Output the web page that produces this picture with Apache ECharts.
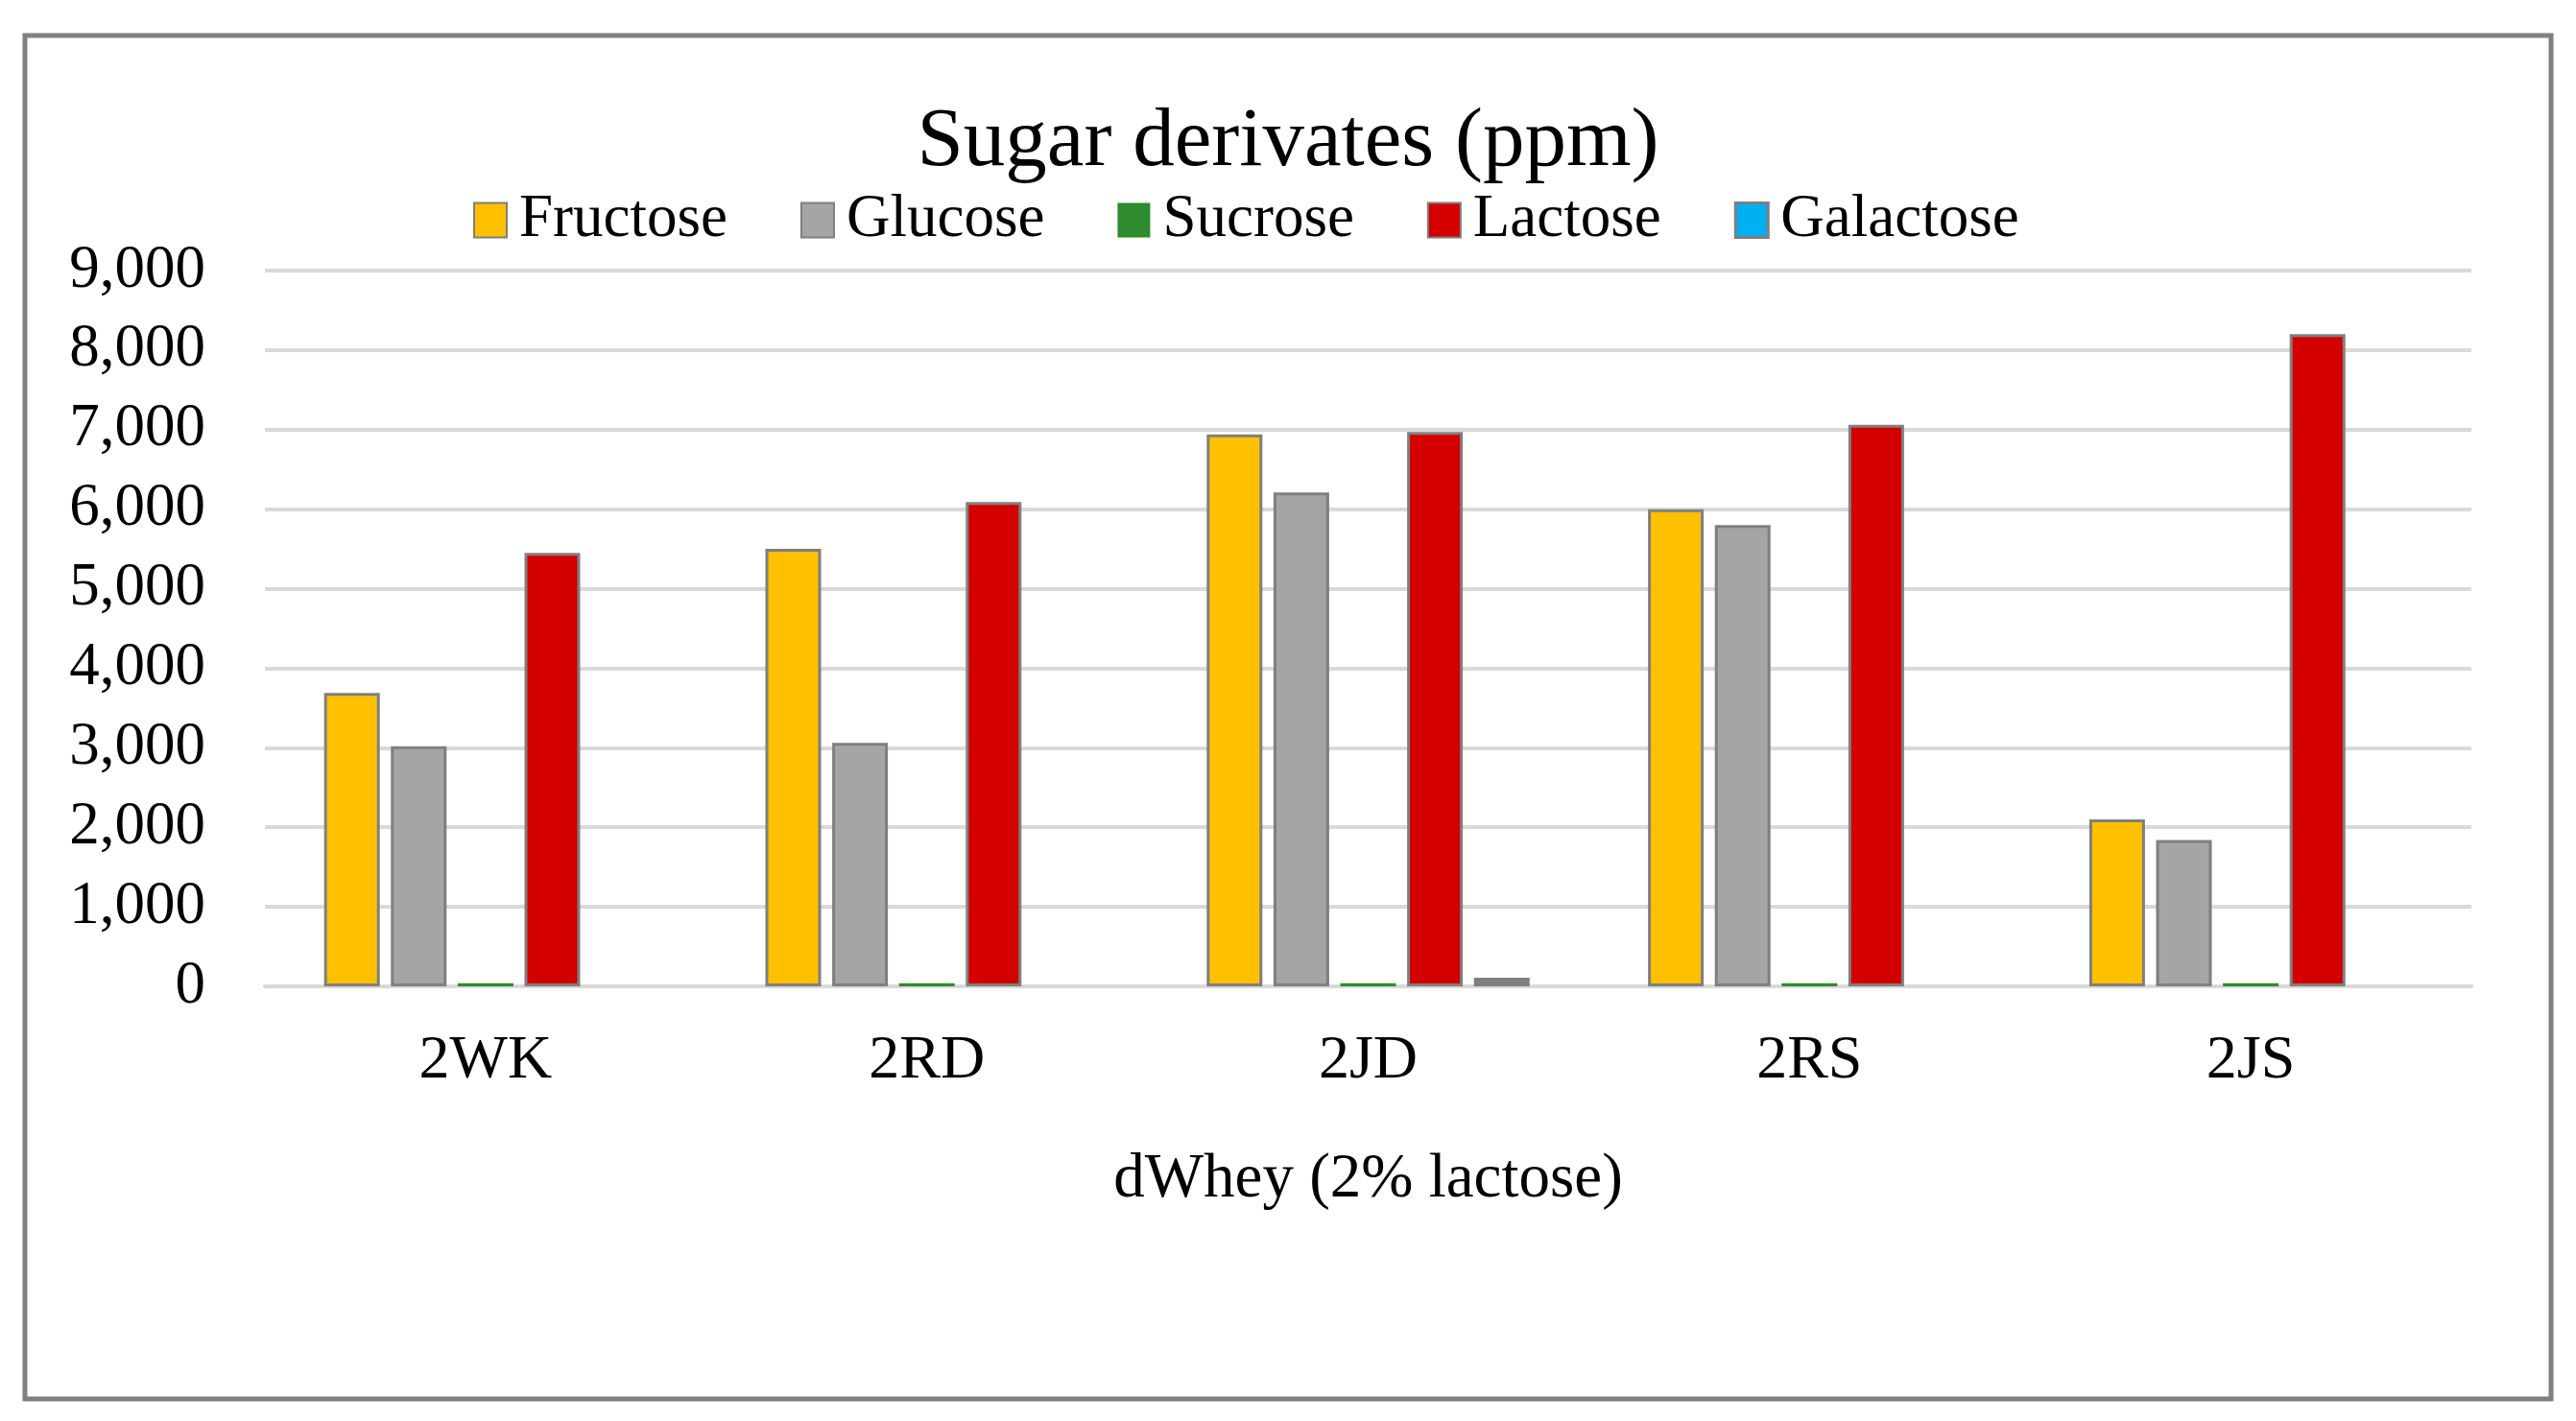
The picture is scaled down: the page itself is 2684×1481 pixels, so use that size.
<!DOCTYPE html>
<html>
<head>
<meta charset="utf-8">
<script src="https://cdn.jsdelivr.net/npm/echarts@6/dist/echarts.min.js"></script>
<style>
html,body{margin:0;padding:0;background:#fff;}
#c{width:2684px;height:1481px;}
</style>
</head>
<body>
<div id="c"></div>
<script>
var categories = ['2WK', '2RD', '2JD', '2RS', '2JS'];
var fructose  = [3690, 5500, 6940, 6000, 2100];
var glucose   = [3020, 3060, 6210, 5800, 1840];
var sucrose   = [40, 40, 40, 40, 40];
var lactose   = [5450, 6090, 6970, 7060, 8200];
var galactose = [0, 0, 110, 0, 0];
var yTicks = [0, 1000, 2000, 3000, 4000, 5000, 6000, 7000, 8000, 9000];

var FONT = '"Liberation Serif", "Times New Roman", serif';
function nz(arr){ return arr.map(function(v){ return v === 0 ? '-' : v; }); }
function fmt(v){ return String(v).replace(/\B(?=(\d{3})+(?!\d))/g, ','); }

var chart = echarts.init(document.getElementById('c'));
var border = {borderColor:'#7F7F7F', borderWidth:3};
chart.setOption({
  backgroundColor:'#fff',
  animation:false,
  graphic:[{type:'rect', shape:{x:26, y:37, width:2632, height:1421},
            style:{fill:'none', stroke:'#7F7F7F', lineWidth:5}, silent:true}],
  title:{text:'Sugar derivates (ppm)', left:'center', top:101,
         textStyle:{fontFamily:FONT, fontSize:87, fontWeight:'normal', color:'#000'}},
  legend:{left:488, top:193, itemWidth:34, itemHeight:36, itemGap:76, icon:'rect',
          textStyle:{fontFamily:FONT, fontSize:63, color:'#000', padding:[0,0,0,8]},
          data:['Fructose','Glucose',
                {name:'Sucrose', itemStyle:{borderWidth:0}},
                'Lactose',
                {name:'Galactose', itemStyle:{borderColor:'#7F7F7F', borderWidth:3}}]},
  grid:{left:276, right:109, top:282, bottom:453, containLabel:false},
  xAxis:{type:'category', data:categories,
         axisLine:{show:true, lineStyle:{color:'#D9D9D9', width:4}},
         axisTick:{show:false},
         axisLabel:{fontFamily:FONT, fontSize:64, color:'#000', margin:46},
         name:'dWhey (2% lactose)', nameLocation:'middle', nameGap:169,
         nameTextStyle:{fontFamily:FONT, fontSize:65, color:'#000'}},
  yAxis:{type:'value', min:yTicks[0], max:yTicks[yTicks.length-1], interval:1000,
         axisLine:{show:false}, axisTick:{show:false},
         splitLine:{lineStyle:{color:'#D9D9D9', width:4}},
         axisLabel:{fontFamily:FONT, fontSize:63, color:'#000', margin:62, formatter:fmt}},
  series:[
    {name:'Fructose', type:'bar', data:nz(fructose), barWidth:58, barGap:'20%', barCategoryGap:'26%',
     itemStyle:Object.assign({color:'#FFC000'}, border)},
    {name:'Glucose', type:'bar', data:nz(glucose), barWidth:58, barGap:'20%',
     itemStyle:Object.assign({color:'#A5A5A5'}, border)},
    {name:'Sucrose', type:'bar', data:nz(sucrose), barWidth:58, barGap:'20%',
     itemStyle:{color:'#2E8B2E', borderWidth:0}},
    {name:'Lactose', type:'bar', data:nz(lactose), barWidth:58, barGap:'20%',
     itemStyle:Object.assign({color:'#D40000'}, border)},
    {name:'Galactose', type:'bar', data:nz(galactose), barWidth:58, barGap:'20%',
     itemStyle:{color:'#00B0F0', borderColor:'#7F7F7F', borderWidth:9}}
  ]
});
</script>
</body>
</html>
